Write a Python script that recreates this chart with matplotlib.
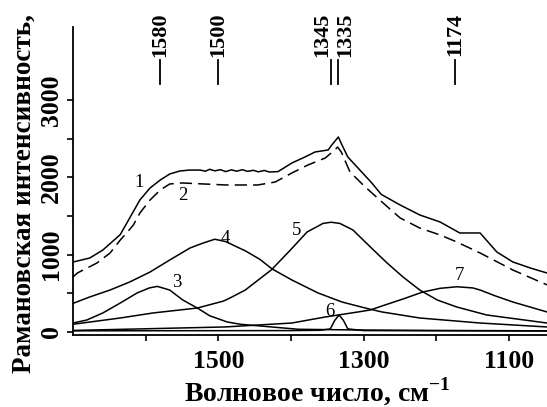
import matplotlib
matplotlib.use('Agg')
import matplotlib.pyplot as plt

plt.rcParams['font.family'] = ['Liberation Serif', 'DejaVu Serif']
plt.rcParams['mathtext.fontset'] = 'custom'
plt.rcParams['mathtext.rm'] = 'Liberation Serif'
plt.rcParams['mathtext.bf'] = 'Liberation Serif:bold'

# Raman spectrum: experimental (1), fit (2), components (3-7)
w1 = [1700, 1677, 1659, 1635, 1622, 1608, 1594, 1580, 1567, 1553, 1540, 1525,
      1518, 1512, 1505, 1497, 1490, 1482, 1475, 1467, 1460, 1452, 1445, 1437,
      1430, 1418, 1399, 1381, 1367, 1349, 1344, 1335, 1330, 1322, 1308, 1289,
      1276, 1250, 1223, 1195, 1168, 1140, 1117, 1095, 1071, 1048]
i1 = [905, 957, 1060, 1260, 1475, 1708, 1863, 1966, 2044, 2083, 2095, 2095,
      2080, 2105, 2085, 2100, 2075, 2098, 2080, 2100, 2078, 2092, 2072, 2090,
      2070, 2075, 2186, 2264, 2329, 2355, 2420, 2523, 2420, 2264, 2122, 1928,
      1780, 1643, 1514, 1423, 1281, 1281, 1035, 906, 828, 763]

w2 = [1700, 1694, 1667, 1649, 1635, 1625, 1617, 1608, 1594, 1580, 1567, 1550,
      1520, 1490, 1446, 1422, 1399, 1377, 1353, 1340, 1336, 1331, 1319, 1298,
      1275, 1250, 1223, 1195, 1172, 1140, 1095, 1054, 1048]
i2 = [711, 763, 893, 1022, 1190, 1294, 1384, 1539, 1708, 1837, 1915, 1928,
      1915, 1902, 1902, 1940, 2057, 2160, 2251, 2355, 2393, 2329, 2070, 1876,
      1682, 1475, 1345, 1255, 1164, 1022, 802, 634, 610]

w3 = [1700, 1681, 1659, 1635, 1612, 1595, 1584, 1567, 1549, 1529, 1512, 1488,
      1470, 1433, 1390, 1300, 1200, 1048]
i3 = [116, 155, 246, 375, 504, 570, 590, 543, 414, 310, 210, 130,
      100, 70, 35, 25, 20, 15]

w4 = [1700, 1677, 1649, 1622, 1594, 1567, 1539, 1521, 1505, 1490, 1480, 1463,
      1443, 1426, 1399, 1363, 1330, 1298, 1275, 1223, 1140, 1048]
i4 = [370, 453, 543, 647, 776, 931, 1087, 1151, 1200, 1170, 1125, 1050,
      940, 815, 673, 505, 388, 310, 259, 181, 116, 65]

w5 = [1700, 1635, 1590, 1529, 1493, 1484, 1463, 1427, 1401, 1378, 1356, 1345,
      1333, 1315, 1291, 1268, 1246, 1223, 1199, 1172, 1131, 1048]
i5 = [100, 181, 246, 310, 400, 440, 543, 805, 1060, 1294, 1405, 1420,
      1405, 1320, 1100, 893, 711, 543, 414, 323, 220, 116]

w6 = [1700, 1400, 1360, 1346, 1340, 1334, 1328, 1322, 1300, 1048]
i6 = [15, 18, 22, 40, 150, 220, 150, 40, 18, 12]

w7 = [1700, 1491, 1446, 1399, 1353, 1308, 1291, 1271, 1245, 1219, 1195, 1172,
      1150, 1140, 1120, 1095, 1048]
i7 = [20, 65, 90, 116, 194, 259, 285, 349, 430, 517, 565, 585,
      570, 543, 470, 388, 259]

# band positions marked at the top
bands = [1580, 1500, 1345, 1335, 1174]
band_text_x = [1580, 1500, 1357, 1326, 1174]

curve_labels = ['1', '2', '3', '4', '5', '6', '7']
label_x = [1609, 1549, 1557, 1490, 1392, 1347, 1168]
label_y = [1934, 1772, 634, 1216, 1307, 259, 737]

fig = plt.figure(figsize=(5.47, 4.07), dpi=100)
ax = fig.add_axes([73 / 547, 1 - 335 / 407, 474 / 547, 308 / 407])

lw = 1.1
ax.plot(w1, i1, color='black', lw=lw)
ax.plot(w2, i2, color='black', lw=lw, linestyle=(0, (8, 4)))
for w, i in [(w3, i3), (w4, i4), (w5, i5), (w6, i6), (w7, i7)]:
    ax.plot(w, i, color='black', lw=lw)

for txt, x, y in zip(curve_labels, label_x, label_y):
    ax.text(x, y, txt, fontsize=13.5, ha='center', va='center')

for b, bx in zip(bands, band_text_x):
    ax.plot([b, b], [3210, 3520], color='black', lw=1.3, clip_on=False)
    ax.text(bx, 3850, str(b), rotation=90, ha='center', va='center',
            fontsize=16, fontweight='bold', clip_on=False)

ax.set_xlim(1700, 1048)
ax.set_ylim(-39, 3946)

ax.spines['top'].set_visible(False)
ax.spines['right'].set_visible(False)
ax.spines['left'].set_linewidth(1.3)
ax.spines['bottom'].set_linewidth(1.3)

ax.set_xticks([1600, 1500, 1400, 1300, 1200, 1100])
ax.set_xticklabels(['', '1500', '', '1300', '', '1100'],
                   fontsize=18.5, fontweight='bold')
ax.set_yticks([0, 500, 1000, 1500, 2000, 2500, 3000])
ax.set_yticklabels(['0', '', '1000', '', '2000', '', '3000'],
                   fontsize=18.5, fontweight='bold', rotation=90, va='center')
ax.tick_params(axis='x', length=4, width=1.2, pad=7)
ax.tick_params(axis='y', length=4, width=1.2, pad=3)

fig.text(317 / 547, 1 - 401 / 407, 'Волновое число, см$^{\\mathbf{-1}}$',
         ha='center', va='baseline', fontsize=20, fontweight='bold')
fig.text(24 / 547, 1 - 194 / 407, 'Рамановская интенсивность,',
         ha='center', va='center', rotation=90, fontsize=19.5, fontweight='bold')

fig.savefig('out.png', dpi=100)
